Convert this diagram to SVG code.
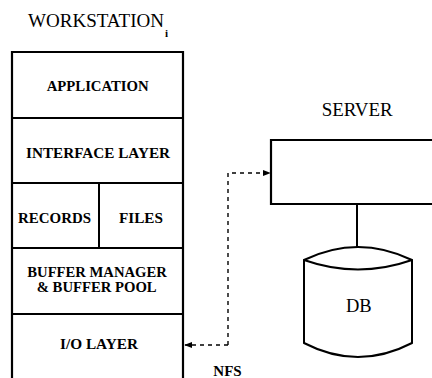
<svg xmlns="http://www.w3.org/2000/svg" width="432" height="378" viewBox="0 0 432 378">
<style>
.box{fill:none;stroke:#000;stroke-width:2.2}
.ln{stroke:#000;stroke-width:2;fill:none}
.lb{font-size:14px;font-weight:bold}
.tt{font-size:18px}
.dash{fill:none;stroke:#000;stroke-width:1.4;stroke-dasharray:4,4}
</style>
<defs>
<marker id="arr" viewBox="0 0 10 10" refX="9" refY="5" markerWidth="8" markerHeight="8" orient="auto" markerUnits="userSpaceOnUse">
<path d="M0,1 L10,5 L0,9 Z" fill="#000"/>
</marker>
</defs>
<rect width="432" height="378" fill="#fff"/>
<g font-family="Liberation Serif, Times New Roman, serif" fill="#000">
<g id="workstation">
<text class="tt" x="28" y="27" textLength="136" lengthAdjust="spacingAndGlyphs">WORKSTATION</text>
<text x="165" y="37" font-size="11" font-weight="bold">i</text>
<path class="box" d="M12,390 V52 H183 V390"/>
<line class="ln" x1="12" y1="118" x2="183" y2="118"/>
<line class="ln" x1="12" y1="183" x2="183" y2="183"/>
<line class="ln" x1="12" y1="248" x2="183" y2="248"/>
<line class="ln" x1="12" y1="314" x2="183" y2="314"/>
<line class="ln" x1="99" y1="183" x2="99" y2="248"/>
<text class="lb" x="46.7" y="90.5" textLength="102" lengthAdjust="spacingAndGlyphs">APPLICATION</text>
<text class="lb" x="26" y="158" textLength="144" lengthAdjust="spacingAndGlyphs">INTERFACE LAYER</text>
<text class="lb" x="18" y="222.5" textLength="73" lengthAdjust="spacingAndGlyphs">RECORDS</text>
<text class="lb" x="119" y="222.5" textLength="44" lengthAdjust="spacingAndGlyphs">FILES</text>
<text class="lb" x="27.3" y="276.5" textLength="139.5" lengthAdjust="spacingAndGlyphs">BUFFER MANAGER</text>
<text class="lb" x="36.7" y="292" textLength="120" lengthAdjust="spacingAndGlyphs">&amp; BUFFER POOL</text>
<text class="lb" x="60" y="349" textLength="78" lengthAdjust="spacingAndGlyphs">I/O LAYER</text>
</g>
<g id="server">
<text class="tt" x="321.7" y="116" textLength="71" lengthAdjust="spacingAndGlyphs">SERVER</text>
<path class="box" d="M440,140 H271 V204 H440"/>
</g>
<g id="db">
<path class="ln" d="M304,260 Q358,234 412,260 V343 Q358,371 304,343 Z"/>
<path class="ln" d="M304,260 Q358,279 412,260"/>
<text class="tt" x="346" y="311.5" textLength="25.7" lengthAdjust="spacingAndGlyphs">DB</text>
</g>
<g id="connectors">
<line class="ln" x1="357" y1="204" x2="357" y2="247"/>
<path class="dash" d="M228,345 V173 H270" marker-end="url(#arr)"/>
<path class="dash" d="M228,345 H185" marker-end="url(#arr)"/>
<text class="lb" x="213.3" y="376" textLength="28.4" lengthAdjust="spacingAndGlyphs">NFS</text>
</g>
</g>
</svg>
